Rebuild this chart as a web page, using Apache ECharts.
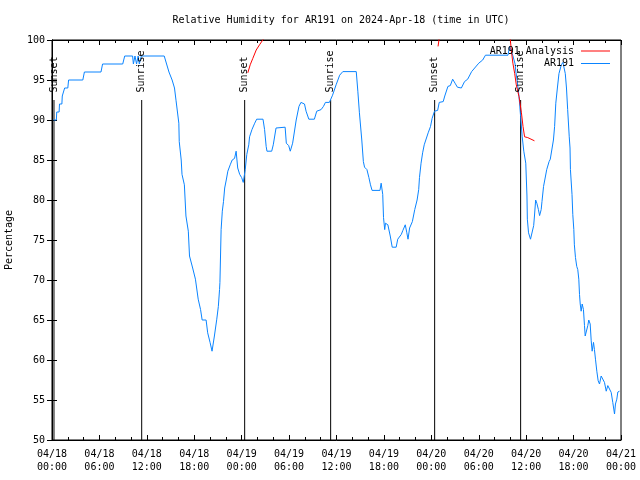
<!DOCTYPE html>
<html>
<head>
<meta charset="utf-8">
<script src="https://cdn.jsdelivr.net/npm/echarts@6/dist/echarts.min.js"></script>
<style>html,body{margin:0;padding:0;background:#fff}#c{width:640px;height:480px}</style>
</head>
<body>
<div id="c"></div>
<script>
const titleText = 'Relative Humidity for AR191 on 2024-Apr-18 (time in UTC)';
const yAxisName = 'Percentage';
const xTickLabels = ['04/18\n00:00','04/18\n06:00','04/18\n12:00','04/18\n18:00','04/19\n00:00','04/19\n06:00','04/19\n12:00','04/19\n18:00','04/20\n00:00','04/20\n06:00','04/20\n12:00','04/20\n18:00','04/21\n00:00'];
const seriesNames = ['AR191 Analysis', 'AR191'];
// hours since 04/18 00:00 UTC
const eventNames = ['Sunset','Sunrise','Sunset','Sunrise','Sunset','Sunrise'];
const eventHours = [0.25, 11.35, 24.38, 35.26, 48.42, 59.3];
const eventTop = 92.5;
// AR191 observations: [hour, RH %]
const ar191 = [
[0.19,90],[0.55,90],[0.6,91],[0.9,91],[0.95,92],[1.25,92],[1.3,93],[1.55,93],[1.6,94],[2.0,94],[2.1,95],[3.9,95],[4.1,96],[6.2,96],[6.4,97],[8.95,97],[9.2,98],[10.2,98],[10.3,97],[10.5,98],[10.7,97],[10.9,98],[11.05,97],[11.3,98],
[14.2,98],[14.5,97],[14.8,96],[15.2,95],[15.5,94],[15.7,92.4],[16.05,89.6],[16.1,87.3],[16.35,85.0],[16.45,83.2],[16.75,81.9],[16.95,78.0],[17.25,76.1],[17.4,73.0],[17.8,71.5],[18.15,70.1],[18.5,67.6],[18.8,66.3],[19.0,65.0],[19.5,65.0],[19.7,63.4],[20.0,62.2],[20.25,61.1],[20.55,63.0],[20.85,65.1],[21.05,66.7],[21.2,68.8],[21.25,69.7],[21.4,76.3],[21.55,78.6],[21.7,79.8],[21.85,81.5],[22.05,82.5],[22.25,83.6],[22.55,84.4],[22.8,85.0],[23.1,85.2],[23.3,86.1],[23.5,84.0],[23.75,83.2],[24.0,82.8],[24.2,82.2],[24.45,83.8],[24.65,85.7],[24.9,86.9],[25.0,87.9],[25.3,88.8],[25.65,89.6],[25.9,90.1],[26.7,90.1],[26.9,88.8],[27.1,86.7],[27.2,86.1],[27.8,86.1],[28.0,86.9],[28.35,89.0],[28.5,89.1],[29.5,89.1],[29.65,87.1],[29.95,86.8],[30.15,86.1],[30.45,87.1],[30.9,90.0],[31.25,91.7],[31.5,92.2],[31.95,92.0],[32.15,91.1],[32.5,90.1],[33.2,90.1],[33.5,91.1],[34.05,91.3],[34.35,91.7],[34.6,92.2],[35.1,92.2],[35.5,93.1],[35.95,94.4],[36.4,95.6],[36.8,96.05],[38.5,96.05],[38.7,93.6],[38.9,90.9],[39.2,87.5],[39.4,84.8],[39.55,84.1],[39.85,83.8],[40.1,82.8],[40.3,81.9],[40.5,81.2],[41.5,81.2],[41.65,82.1],[41.85,80.7],[41.95,77.8],[42.1,76.3],[42.2,77.1],[42.5,76.9],[42.8,75.5],[43.05,74.1],[43.55,74.1],[43.75,75.1],[44.2,75.7],[44.4,76.2],[44.7,76.9],[44.9,75.9],[45.05,75.1],[45.25,76.5],[45.6,77.3],[45.9,78.8],[46.2,80.0],[46.4,81.3],[46.5,82.8],[46.7,84.6],[46.9,85.9],[47.1,86.9],[47.3,87.5],[47.6,88.4],[47.9,89.2],[48.1,90.2],[48.4,91.1],[48.8,91.2],[49.0,92.2],[49.5,92.3],[49.7,93.0],[50.1,94.2],[50.4,94.3],[50.7,95.1],[51.0,94.6],[51.3,94.1],[51.8,94.0],[52.2,94.8],[52.6,95.1],[53.1,96.05],[54.0,97.1],[54.5,97.5],[54.85,98.1],[57.7,98.1],[57.9,99.2],[58.1,99.2],[58.3,98.1],[58.6,97.0],[58.7,96.0],[58.85,95.0],[59.1,92.9],[59.3,90.4],[59.5,87.9],[59.7,86.1],[59.95,84.6],[60.1,80.5],[60.15,77.6],[60.3,75.9],[60.55,75.1],[60.7,75.1],[60.95,76.8],[61.05,78.0],[61.2,80.0],[61.35,79.6],[61.55,78.8],[61.7,78.05],[61.9,78.8],[62.0,79.8],[62.2,81.7],[62.45,83.0],[62.6,83.8],[62.9,84.8],[63.05,85.1],[63.3,85.1],[63.45,87.5],[63.6,89.2],[63.75,92.1],[63.95,94.0],[64.15,95.8],[64.45,96.9],[64.65,97.2],[64.95,95.8],[65.1,94.0],[65.25,91.3],[65.45,87.9],[65.55,86.5],[65.6,83.8],[65.8,80.7],[65.9,78.2],[66.03,76.3],[66.1,74.4],[66.24,72.8],[66.4,71.7],[66.53,71.3],[66.66,70.1],[66.75,68.2],[66.84,67.0],[66.96,66.1],[67.09,67.0],[67.25,66.3],[67.38,64.3],[67.47,63.0],[67.67,63.0],[67.8,64.3],[67.92,65.0],[68.1,64.5],[68.23,62.4],[68.35,61.1],[68.52,62.2],[68.64,61.3],[68.77,60.1],[68.94,58.6],[69.11,57.4],[69.28,57.0],[69.49,58.0],[69.7,57.95],[69.91,57.2],[70.13,56.1],[70.33,56.8],[70.54,57.0],[70.76,55.95],[70.96,54.7],[71.18,53.25],[71.3,54.5],[71.47,55.1],[71.6,56.0],[71.81,56.1]
];
// AR191 Analysis: [hour, RH %]; null = gap
const ar191Analysis = [
[24.78,95.9],[25.08,96.9],[25.41,97.7],[25.84,98.75],[26.26,99.4],[26.67,100],[27.1,100.6],[27.2,null],
[48.85,99.2],[49.05,100.6],[49.1,null],
[57.9,101],[58.12,98.75],[58.32,97.1],[58.55,95.8],[58.75,94.4],[59.1,92.9],[59.4,90.9],[59.6,89.2],[59.8,87.9],[60.2,87.8],[61.05,87.4]
];

const FONT = 'DejaVu Sans Mono';
const BLUE = '#0a84ff';
const RED = '#ff0000';
const chart = echarts.init(document.getElementById('c'), null, {renderer:'canvas'});
const baseX = {
  type:'value', min:0, max:72, interval:6,
  axisLine:{show:true, lineStyle:{color:'#000', width:1}},
  axisTick:{show:true, inside:true, length:5, lineStyle:{color:'#000'}},
  minorTick:{show:true, splitNumber:3, length:3, lineStyle:{color:'#000'}},
  splitLine:{show:false}, minorSplitLine:{show:false}
};
const baseY = {
  type:'value', min:50, max:100, interval:5,
  axisLine:{show:true, lineStyle:{color:'#000', width:1}},
  axisTick:{show:true, inside:true, length:5, lineStyle:{color:'#000'}},
  splitLine:{show:false}
};
const series = [
  {name:seriesNames[0], type:'line', data:ar191Analysis, symbol:'none', connectNulls:false,
   lineStyle:{color:RED, width:1}, itemStyle:{color:RED}, z:3},
  {name:seriesNames[1], type:'line', data:ar191, symbol:'none',
   lineStyle:{color:BLUE, width:1}, itemStyle:{color:BLUE}, z:2}
];
eventHours.forEach((h, i) => {
  series.push({name:'ev'+i, type:'line', data:[[h,50],[h,eventTop]], symbol:'none',
    lineStyle:{color:'#000', width:1}, silent:true, z:1});
});
series.push({name:'evlabels', type:'scatter', symbolSize:1, itemStyle:{color:'rgba(255,255,255,0)'},
  data:eventHours.map(h => [h, eventTop]),
  label:{show:true, position:'top', distance:7, rotate:90, align:'left', verticalAlign:'middle',
    formatter:p => eventNames[p.dataIndex], fontFamily:FONT, fontSize:10, color:'#000', opacity:1}, z:4});

chart.setOption({
  animation:false,
  backgroundColor:'#fff',
  title:{text:titleText, left:336, top:10, textAlign:'center',
    textStyle:{fontFamily:FONT, fontSize:10, fontWeight:'normal', color:'#000'}},
  legend:{data:seriesNames.map(n => ({name:n, icon:'rect'})), orient:'vertical', right:25, top:41, align:'right',
    itemWidth:29, itemHeight:1, itemGap:2.5,
    textStyle:{fontFamily:FONT, fontSize:10, color:'#000', padding:[0,2,0,0]}},
  grid:{left:52, right:19, top:40, bottom:40, show:true, borderColor:'#000', borderWidth:1,
    containLabel:false, outerBoundsMode:'none'},
  xAxis:[
    Object.assign({}, baseX, {position:'bottom',
      axisLabel:{formatter:v => xTickLabels[Math.round(v/6)], fontFamily:FONT, fontSize:10, color:'#000', lineHeight:13, margin:8}}),
    Object.assign({}, baseX, {position:'top', axisLabel:{show:false}})
  ],
  yAxis:[
    Object.assign({}, baseY, {position:'left', name:yAxisName, nameLocation:'middle', nameGap:38, nameRotate:90,
      nameTextStyle:{fontFamily:FONT, fontSize:10, color:'#000'},
      axisLabel:{fontFamily:FONT, fontSize:10, color:'#000', margin:7}}),
    Object.assign({}, baseY, {position:'right', axisLabel:{show:false}})
  ],
  series:series
});
</script>
</body>
</html>
